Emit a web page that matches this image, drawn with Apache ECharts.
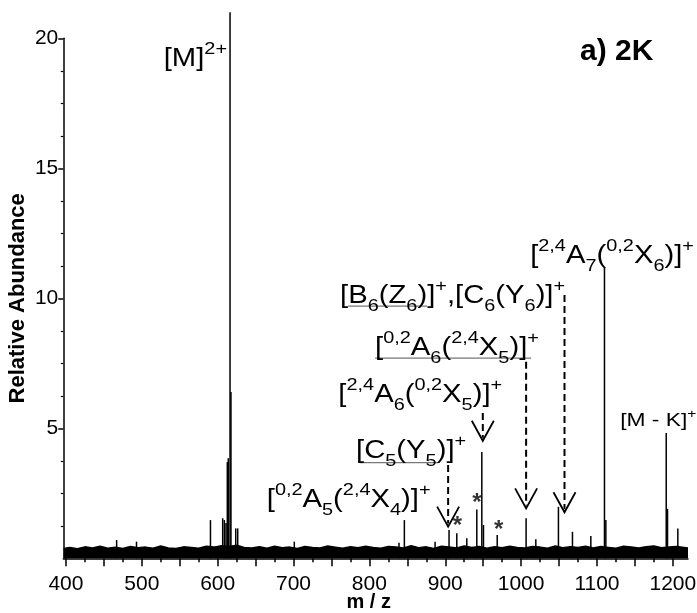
<!DOCTYPE html>
<html>
<head>
<meta charset="utf-8">
<style>
  html, body { margin: 0; padding: 0; background: #fff; }
  #chart { width: 697px; height: 613px; }
</style>
<script src="https://cdn.jsdelivr.net/npm/echarts@6/dist/echarts.min.js"></script>
</head>
<body>
<div id="chart"></div>
<script>
// peaks (m/z, relative abundance)
const peakMz = [466.8, 493, 590.5, 606.6, 608.8, 611, 612.7, 614, 616.3, 617.5, 623.8, 626.4,
  701, 839, 846.1, 886.6, 905, 915.2, 928.4, 941.6, 948.2, 950.4, 968.5,
  1006.6, 1019.4, 1049.2, 1067.7, 1091.9, 1109.9, 1111.7, 1191.3, 1193, 1206.6]
const peakHeight = [0.7, 0.64, 1.47, 1.54, 1.47, 1.36, 3.7, 3.85, 21, 6.4, 1.15, 1.15,
  0.64, 0.6, 1.47, 0.64, 1.09, 0.96, 0.77, 1.88, 4.09, 1.28, 0.9,
  1.54, 0.73, 1.98, 1.02, 0.86, 11.17, 1.47, 4.82, 1.9, 1.15]

// baseline noise band
const noiseMz = [397,
  405, 415, 425, 435, 445, 455, 465, 475, 485, 495,
  505, 515, 525, 535, 545, 555, 565, 575, 585, 595,
  605, 615, 625, 635, 645, 655, 665, 675, 685, 695,
  705, 715, 725, 735, 745, 755, 765, 775, 785, 795,
  805, 815, 825, 835, 845, 855, 865, 875, 885, 895,
  905, 915, 925, 935, 945, 955, 965, 975, 985, 995,
  1005, 1015, 1025, 1035, 1045, 1055, 1065, 1075, 1085, 1095,
  1105, 1115, 1125, 1135, 1145, 1155, 1165, 1175, 1185, 1195,
  1205, 1215, 1220]
const noiseLevel = [0.38,
  0.42, 0.37, 0.44, 0.40, 0.46, 0.39, 0.43, 0.38, 0.45, 0.41,
  0.43, 0.39, 0.47, 0.40, 0.38, 0.44, 0.42, 0.39, 0.46, 0.43,
  0.48, 0.45, 0.50, 0.42, 0.40, 0.44, 0.39, 0.46, 0.41, 0.43,
  0.38, 0.45, 0.42, 0.40, 0.47, 0.43, 0.39, 0.44, 0.41, 0.46,
  0.42, 0.39, 0.45, 0.43, 0.40, 0.48, 0.41, 0.44, 0.38, 0.46,
  0.43, 0.40, 0.47, 0.42, 0.45, 0.39, 0.44, 0.41, 0.46, 0.42,
  0.40, 0.45, 0.43, 0.39, 0.47, 0.41, 0.44, 0.42, 0.46, 0.40,
  0.45, 0.42, 0.39, 0.46, 0.43, 0.40, 0.44, 0.47, 0.41, 0.43,
  0.45, 0.42, 0.40]

const xMajorTicks = [400, 450, 500, 550, 600, 650, 700, 750, 800, 850, 900, 950, 1000, 1050, 1100, 1150, 1200]
const xMinorTicks = [425, 475, 525, 575, 625, 675, 725, 775, 825, 875, 925, 975, 1025, 1075, 1125, 1175]
const xTickLabels = [400, 500, 600, 700, 800, 900, 1000, 1100, 1200]
const yMajorTicks = [5, 10, 15, 20]
const yMinorTicks = [1.25, 2.5, 3.75, 6.25, 7.5, 8.75, 11.25, 12.5, 13.75, 16.25, 17.5, 18.75]
const yTickLabels = [5, 10, 15, 20]

// dashed arrows: m/z, start level, tip level
const arrowMz = [903.8, 949.5, 1006.6, 1057.2]
const arrowFrom = [3.59, 5.59, 7.56, 10.13]
const arrowTo = [1.22, 4.52, 1.92, 1.77]

const starMz = [916, 941.9, 970.4]
const starLevel = [1.24, 2.13, 1.07]

// ion labels (rich text) anchored in data space
const ionText = [
  '{m|[M]}{p|2+}',
  '{m|[}{p|2,4}{m|A}{b|7}{m|(}{p|0,2}{m|X}{b|6}{m|)]}{p|+}',
  '{m|[B}{b|6}{m|(Z}{b|6}{m|)]}{p|+}{m|,[C}{b|6}{m|(Y}{b|6}{m|)]}{p|+}',
  '{m|[}{p|0,2}{m|A}{b|6}{m|(}{p|2,4}{m|X}{b|5}{m|)]}{p|+}',
  '{m|[}{p|2,4}{m|A}{b|6}{m|(}{p|0,2}{m|X}{b|5}{m|)]}{p|+}',
  '{m|[C}{b|5}{m|(Y}{b|5}{m|)]}{p|+}',
  '{m|[}{p|0,2}{m|A}{b|5}{m|(}{p|2,4}{m|X}{b|4}{m|)]}{p|+}',
  '{k|[M - K]}{q|+}'
]
const ionMz = [612.3, 1011.9, 761.3, 807.5, 759.1, 782.4, 664.7, 1130.6]
const ionLevel = [19.2, 11.63, 10.09, 8.09, 6.28, 4.13, 2.24, 5.28]
const ionAlign = ['right', 'left', 'left', 'left', 'left', 'left', 'left', 'left']

const underlineFrom = [771.9, 807.5, 787.7]
const underlineTo = [876.1, 1013.2, 891]
const underlineLevel = [9.70, 7.7, 3.68]

const FONT = '"Liberation Sans", Arial, sans-serif'
const f = (size) => `${size}px ${FONT}`
const ionRich = {
  m: { font: f(25), lineHeight: 37, fill: '#000' },
  p: { font: f(17), lineHeight: 27, verticalAlign: 'top', fill: '#000' },
  b: { font: f(17), lineHeight: 17, verticalAlign: 'bottom', fill: '#000' },
  k: { font: f(19), lineHeight: 27, fill: '#000' },
  q: { font: f(13), lineHeight: 17, verticalAlign: 'top', fill: '#000' }
}

const chart = echarts.init(document.getElementById('chart'))

const option = {
  backgroundColor: '#fff',
  animation: false,
  title: {
    text: 'a) 2K', left: 580, top: 37, padding: 0,
    textStyle: { fontSize: 30, fontWeight: 'bold', color: '#000', fontFamily: FONT }
  },
  grid: { left: 63.3, right: 9, top: 38.3, bottom: 54.7, outerBoundsMode: 'none' },
  xAxis: [
    {
      type: 'value', min: 396.5, max: 1220,
      name: 'm / z', nameLocation: 'middle', nameGap: 34, nameMoveOverlap: false,
      nameTextStyle: { fontSize: 20, fontWeight: 'bold', color: '#000', fontFamily: FONT, padding: [0, 14, 0, 0] },
      axisLine: { show: true, lineStyle: { color: '#000', width: 1.5 } },
      axisTick: { show: true, customValues: xMajorTicks, length: 8, lineStyle: { color: '#000', width: 1.5 } },
      axisLabel: { customValues: xTickLabels, formatter: (v) => String(v), fontSize: 21, color: '#000', margin: 15, fontFamily: FONT },
      splitLine: { show: false }
    },
    {
      type: 'value', min: 396.5, max: 1220, position: 'bottom',
      axisLine: { show: false },
      axisTick: { show: true, customValues: xMinorTicks, length: 4, lineStyle: { color: '#000', width: 1.5 } },
      axisLabel: { show: false },
      splitLine: { show: false }
    }
  ],
  yAxis: [
    {
      type: 'value', min: 0, max: 20,
      name: 'Relative Abundance', nameLocation: 'middle', nameGap: 34, nameMoveOverlap: false,
      nameTextStyle: { fontSize: 22, fontWeight: 'bold', color: '#000', fontFamily: FONT },
      axisLine: { show: true, lineStyle: { color: '#000', width: 1.5 } },
      axisTick: { show: true, customValues: yMajorTicks, length: 5, lineStyle: { color: '#000', width: 1.5 } },
      axisLabel: { customValues: yTickLabels, formatter: (v) => String(v), fontSize: 21, color: '#000', margin: 5, fontFamily: FONT },
      splitLine: { show: false }
    },
    {
      type: 'value', min: 0, max: 20, position: 'left',
      axisLine: { show: false },
      axisTick: { show: true, customValues: yMinorTicks, length: 2.5, lineStyle: { color: '#000', width: 1.2 } },
      axisLabel: { show: false },
      splitLine: { show: false }
    }
  ],
  series: [
    {
      name: 'noise', type: 'line', silent: true, symbol: 'none', z: 2,
      data: noiseMz.map((m, i) => [m, noiseLevel[i]]),
      lineStyle: { color: '#000', width: 1.5 },
      areaStyle: { color: '#000', opacity: 1 }
    },
    {
      name: 'peaks', type: 'bar', silent: true, barWidth: 1.5, clip: false, z: 3,
      data: peakMz.map((m, i) => [m, peakHeight[i]]),
      itemStyle: { color: '#000' }
    },
    {
      name: 'arrows', type: 'custom', silent: true, z: 4,
      data: arrowMz.map((m, i) => [m, arrowFrom[i], arrowTo[i]]),
      renderItem: (params, api) => {
        const a = api.coord([api.value(0), api.value(1)])
        const b = api.coord([api.value(0), api.value(2)])
        return {
          type: 'group',
          children: [
            { type: 'line', shape: { x1: a[0], y1: a[1], x2: b[0], y2: b[1] - 3 },
              style: { stroke: '#000', lineWidth: 2, lineDash: [7, 4] } },
            { type: 'polyline', shape: { points: [[b[0] - 11, b[1] - 20], [b[0], b[1]], [b[0] + 11, b[1] - 20]] },
              style: { stroke: '#000', lineWidth: 1.8, fill: null } }
          ]
        }
      }
    },
    {
      name: 'underlines', type: 'custom', silent: true, z: 4,
      data: underlineFrom.map((m, i) => [m, underlineLevel[i], underlineTo[i]]),
      renderItem: (params, api) => {
        const a = api.coord([api.value(0), api.value(1)])
        const b = api.coord([api.value(2), api.value(1)])
        return { type: 'line', shape: { x1: a[0], y1: a[1], x2: b[0], y2: b[1] },
          style: { stroke: '#777', lineWidth: 1.2 } }
      }
    },
    {
      name: 'ions', type: 'custom', silent: true, z: 5,
      data: ionMz.map((m, i) => [m, ionLevel[i]]),
      renderItem: (params, api) => {
        const p = api.coord([api.value(0), api.value(1)])
        const i = params.dataIndex
        return {
          type: 'text', x: p[0], y: p[1], scaleX: i === 7 ? 1.2 : 1.17,
          style: { text: ionText[i], rich: ionRich, align: ionAlign[i], verticalAlign: 'middle', fill: '#000', font: f(25) }
        }
      }
    },
    {
      name: 'stars', type: 'scatter', silent: true, symbolSize: 0, z: 5,
      data: starMz.map((m, i) => [m, starLevel[i]]),
      label: { show: true, position: 'inside', formatter: '*', fontSize: 24, fontWeight: 'bold', color: '#000', fontFamily: FONT }
    }
  ]
}

chart.setOption(option)
</script>
</body>
</html>
